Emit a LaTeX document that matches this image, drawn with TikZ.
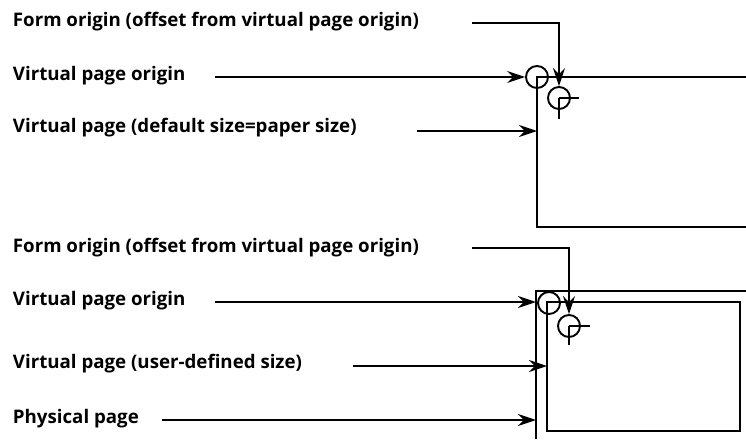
\documentclass[tikz,border=0pt]{standalone}
\usepackage{fontspec}
\setmainfont{Open Sans}
\usetikzlibrary{arrows.meta}
\tikzset{>={Stealth[length=18pt,width=12pt,inset=6pt]}}
\tikzset{
	lbl/.style={anchor=base west, inner sep=0pt, font=\fontsize{18.7}{20}\selectfont\bfseries},
	origin/.style={circle, draw, minimum size=22pt, inner sep=0pt},
}

\begin{document}
\begin{tikzpicture}[x=1pt, y=-1pt, line width=1.9pt]
	\useasboundingbox (0,0) rectangle (746,439);
	\node [lbl] (fo1) at (12,26) {Form origin (offset from virtual page origin)};
	\node [lbl] (vo1) at (12,80) {Virtual page origin};
	\node [lbl] (vp1) at (12,132) {Virtual page (default size=paper size)};
	\coordinate (pg1) at (537,77);
	\draw (746,77) -- (pg1) -- (537,227) -- (746,227);
	\node [origin] (vc1) at (pg1) {};
	\node [origin] (fc1) at (559,98) {};
	\draw (fc1.center) -- ++(20,0);
	\draw (fc1.center) -- ++(0,21);
	\coordinate (fo1s) at (472,23);
	\coordinate (vo1s) at (215,77);
	\coordinate (vp1s) at (417,131);
	\draw [->] (fo1s) -| (fc1.north);
	\draw [->] (vo1s) -- (vc1.west);
	\draw [->] (vp1s) -- (vp1s -| pg1);
	\node [lbl] (fo2) at (12,252) {Form origin (offset from virtual page origin)};
	\node [lbl] (vo2) at (12,305) {Virtual page origin};
	\node [lbl] (vp2) at (12,368) {Virtual page (user-defined size)};
	\node [lbl] (pp2) at (12,423) {Physical page};
	\coordinate (pg2) at (536,291);
	\coordinate (vg2) at (547,302);
	\draw (746,291) -- (pg2) -- (536,439);
	\draw (vg2) rectangle (740,431);
	\node [origin] (vc2) at (549,303) {};
	\node [origin] (fc2) at (569,326) {};
	\draw (fc2.center) -- ++(21,0);
	\draw (fc2.center) -- ++(0,19);
	\coordinate (fo2s) at (472,248);
	\coordinate (vo2s) at (215,302);
	\coordinate (vp2s) at (353,366);
	\coordinate (pp2s) at (162,420);
	\draw [->] (fo2s) -| (fc2.north);
	\draw [->] (vo2s) -- (vo2s -| pg2);
	\draw [->] (vp2s) -- (vp2s -| vg2);
	\draw [->] (pp2s) -- (pp2s -| pg2);
\end{tikzpicture}
\end{document}
